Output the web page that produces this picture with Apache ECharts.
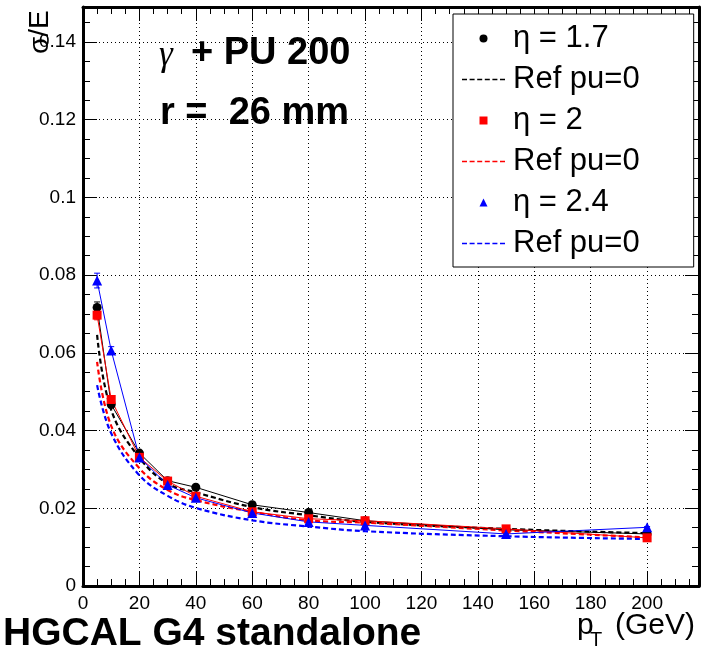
<!DOCTYPE html>
<html><head><meta charset="utf-8">
<script src="https://cdn.jsdelivr.net/npm/echarts@6/dist/echarts.min.js"></script>
<style>html,body{margin:0;padding:0;background:#fff}#c{width:703px;height:655px}</style>
</head><body><div id="c"></div>
<script>
// ---- data ----
const ptValues = [5, 10, 20, 30, 40, 60, 80, 100, 150, 200];
const eta17 = [0.0717, 0.0467, 0.0342, 0.0271, 0.0254, 0.0209, 0.0189, 0.0168, 0.0145, 0.0134];
const eta20 = [0.0697, 0.0480, 0.0331, 0.0270, 0.0231, 0.0191, 0.0173, 0.0168, 0.0147, 0.0124];
const eta24 = [0.0786, 0.0606, 0.0331, 0.0260, 0.0227, 0.0188, 0.0165, 0.0156, 0.0134, 0.0151];
const err17 = [0.0014, 0.0008, 0.0005, 0.0004, 0.0004, 0.0003, 0.0003, 0.0003, 0.0002, 0.0002];
const err20 = [0.0012, 0.0008, 0.0005, 0.0004, 0.0004, 0.0003, 0.0003, 0.0003, 0.0002, 0.0002];
const err24 = [0.0019, 0.0010, 0.0005, 0.0004, 0.0004, 0.0003, 0.0003, 0.0003, 0.0002, 0.0002];
const ref17 = [0.0646, 0.0453, 0.0330, 0.0264, 0.0241, 0.0203, 0.0182, 0.0165, 0.0147, 0.0136];
const ref20 = [0.0577, 0.0412, 0.0303, 0.0247, 0.0221, 0.0191, 0.0169, 0.0163, 0.0143, 0.0125];
const ref24 = [0.0517, 0.0393, 0.0285, 0.0232, 0.0201, 0.0169, 0.0153, 0.0141, 0.0128, 0.0121];
const seriesNames = ['η = 1.7', 'Ref pu=0', 'η = 2', 'Ref pu=0 ', 'η = 2.4', 'Ref pu=0  '];
const xTickValues = [0, 20, 40, 60, 80, 100, 120, 140, 160, 180, 200];
const xTickLabels = ['0', '20', '40', '60', '80', '100', '120', '140', '160', '180', '200'];
const yTickValues = [0, 0.02, 0.04, 0.06, 0.08, 0.10, 0.12, 0.14];
const yTickLabels = ['0', '0.02', '0.04', '0.06', '0.08', '0.1', '0.12', '0.14'];

const FONT = '"Liberation Sans", Arial, Helvetica, sans-serif';
const pairs = (ys) => ptValues.map((x, i) => [x, ys[i]]);
const lab = (vals, labels) => (v) => {
  for (let i = 0; i < vals.length; i++) if (Math.abs(vals[i] - v) < 1e-9) return labels[i];
  return '';
};

const chart = echarts.init(document.getElementById('c'), null, {renderer: 'canvas'});
const dotted = {color: '#000', width: 1, type: [1, 3]};
const frame = {show: true, onZero: false, lineStyle: {color: '#000', width: 3}};

function xAx(pos, labels) {
  return {
    type: 'value', position: pos, min: 0, max: 218.4, interval: 20,
    axisLine: frame,
    axisTick: {show: true, inside: true, length: 14, lineStyle: {color: '#000', width: 1}},
    minorTick: {show: true, splitNumber: 4, length: 7, lineStyle: {color: '#000', width: 1}},
    splitLine: {show: labels, lineStyle: dotted},
    minorSplitLine: {show: false},
    axisLabel: {show: labels, formatter: lab(xTickValues, xTickLabels), color: '#000', fontSize: 19, fontFamily: FONT, margin: 8, showMaxLabel: false}
  };
}
function yAx(pos, labels) {
  return {
    type: 'value', position: pos, min: 0, max: 0.149, interval: 0.02,
    axisLine: frame,
    axisTick: {show: true, inside: true, length: 14, lineStyle: {color: '#000', width: 1}},
    minorTick: {show: true, splitNumber: 4, length: 7, lineStyle: {color: '#000', width: 1}},
    splitLine: {show: labels, lineStyle: dotted},
    minorSplitLine: {show: false},
    axisLabel: {show: labels, formatter: lab(yTickValues, yTickLabels), color: '#000', fontSize: 19, fontFamily: FONT, margin: 7, showMaxLabel: false}
  };
}

const dataSeries = (name, ys, color, symbol, size) => ({
  name, type: 'line', data: pairs(ys), xAxisIndex: 0, yAxisIndex: 0,
  symbol, symbolSize: size, showSymbol: true, z: 5,
  lineStyle: {color, width: 1}, itemStyle: {color}
});
const refSeries = (name, ys, color) => ({
  name, type: 'line', data: pairs(ys), xAxisIndex: 0, yAxisIndex: 0,
  symbol: 'none', showSymbol: false, smooth: 0.4, z: 3,
  lineStyle: {color, width: 2.2, type: [5, 3]}, itemStyle: {color}
});
const errSeries = (id, ys, es, color) => ({
  id, type: 'custom', xAxisIndex: 0, yAxisIndex: 0, z: 4, silent: true,
  data: ptValues.map((x, i) => [x, ys[i] - es[i], ys[i] + es[i]]),
  renderItem: (params, api) => {
    const lo = api.coord([api.value(0), api.value(1)]);
    const hi = api.coord([api.value(0), api.value(2)]);
    const st = {stroke: color, lineWidth: 1};
    return {type: 'group', children: [
      {type: 'line', shape: {x1: lo[0], y1: lo[1], x2: hi[0], y2: hi[1]}, style: st},
      {type: 'line', shape: {x1: hi[0] - 3, y1: hi[1], x2: hi[0] + 3, y2: hi[1]}, style: st},
      {type: 'line', shape: {x1: lo[0] - 3, y1: lo[1], x2: lo[0] + 3, y2: lo[1]}, style: st}
    ]};
  }
});

const dashIcon = 'path://M0,0h5v1.6h-5z M7.6,0h5v1.6h-5z M15.2,0h5v1.6h-5z M22.8,0h5v1.6h-5z M30.4,0h5v1.6h-5z M38,0h5v1.6h-5z';
const squareIcon = 'path://M0,0h10v10h-10z';
const triIcon = 'path://M5,0L10,10H0z';

chart.setOption({
  animation: false,
  backgroundColor: '#fff',
  grid: {left: 83, right: 4, top: 7, bottom: 69},
  xAxis: [xAx('bottom', true), xAx('top', false)],
  yAxis: [yAx('left', true), yAx('right', false)],
  legend: {
    orient: 'vertical', left: 453, top: 14,
    padding: [7, 54, 6, 9],
    itemWidth: 43, itemHeight: 8, itemGap: 6,
    symbolKeepAspect: true,
    backgroundColor: '#fff', borderColor: '#000', borderWidth: 1,
    selectedMode: false,
    formatter: (n) => n.trim(),
    textStyle: {color: '#000', fontSize: 31, fontFamily: FONT, lineHeight: 35, padding: [0, 0, 0, 3]},
    data: [
      {name: seriesNames[0], icon: 'circle'},
      {name: seriesNames[1], icon: dashIcon},
      {name: seriesNames[2], icon: squareIcon},
      {name: seriesNames[3], icon: dashIcon},
      {name: seriesNames[4], icon: triIcon},
      {name: seriesNames[5], icon: dashIcon}
    ]
  },
  series: [
    refSeries(seriesNames[1], ref17, '#000'),
    refSeries(seriesNames[3], ref20, '#ff0000'),
    refSeries(seriesNames[5], ref24, '#0000ff'),
    errSeries('e17', eta17, err17, '#000'),
    errSeries('e20', eta20, err20, '#ff0000'),
    errSeries('e24', eta24, err24, '#0000ff'),
    dataSeries(seriesNames[0], eta17, '#000', 'circle', 9),
    dataSeries(seriesNames[2], eta20, '#ff0000', 'rect', 9),
    dataSeries(seriesNames[4], eta24, '#0000ff', 'triangle', 10)
  ],
  graphic: [
    {type: 'text', left: 159, top: 38, style: {text: 'γ', font: 'italic 35px "Liberation Serif", serif', fill: '#000'}},
    {type: 'text', left: 191, top: 35, style: {text: '+ PU 200', font: 'bold 38px ' + FONT, fill: '#000'}},
    {type: 'text', left: 160, top: 95, style: {text: 'r =  26 mm', font: 'bold 38px ' + FONT, fill: '#000'}},
    {type: 'text', left: 3, top: 615, style: {text: 'HGCAL G4 standalone', font: 'bold 39px ' + FONT, fill: '#000'}},
    {type: 'text', left: 577, top: 611, style: {text: 'p', font: '30px ' + FONT, fill: '#000'}},
    {type: 'text', left: 590, top: 630, style: {text: 'T', font: '20px ' + FONT, fill: '#000'}},
    {type: 'text', left: 615, top: 611, style: {text: '(GeV)', font: '30px ' + FONT, fill: '#000'}},
    {type: 'text', x: 26, y: 54, rotation: Math.PI / 2, style: {text: 'σ/E', font: '28px ' + FONT, fill: '#000', textAlign: 'left', textVerticalAlign: 'top'}}
  ]
});
</script></body></html>
